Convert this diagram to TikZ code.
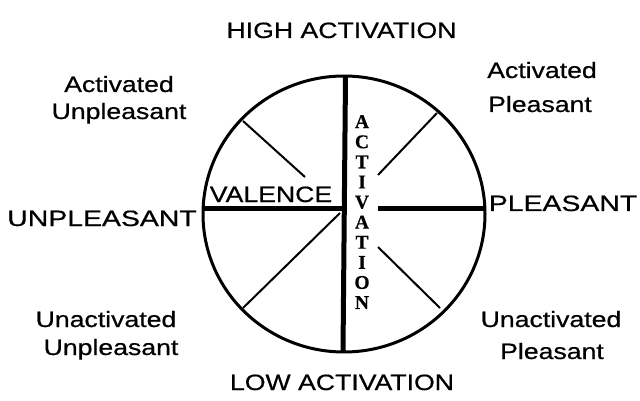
\documentclass[tikz,border=0pt]{standalone}
\usepackage{fontspec}
\setmainfont{Liberation Sans}
\newfontfamily\labfont[FakeStretch=1.2,FakeBold=0.6]{Liberation Sans}
\newfontfamily\widefont[FakeStretch=1.28,FakeBold=0.6]{Liberation Sans}
\newfontfamily\vertfont[FakeBold=0.4]{Liberation Serif}
\tikzset{
  lab/.style={font=\labfont\fontsize{22.2}{26}\selectfont, inner sep=0pt, anchor=base},
  widelab/.style={font=\widefont\fontsize{22.2}{26}\selectfont, inner sep=0pt, anchor=base},
  rim/.style={line width=3pt},
  axis/.style={line width=5pt},
  spoke/.style={line width=2pt},
}
\begin{document}
\begin{tikzpicture}[x=1pt,y=-1pt]
\useasboundingbox (0,0) rectangle (640,401);
% circle
\coordinate (c) at (344,214);
\draw[rim] (c) ellipse [x radius=141pt, y radius=138pt];
% axis coordinates
\coordinate (vt) at (345.5,77);
\coordinate (vb) at (343,352);
\coordinate (hl) at (203,208);
\coordinate (hm) at (343,208);
\coordinate (hr1) at (378,208);
\coordinate (hr) at (485,208);
\draw[axis] (vt) -- (vb);
\draw[axis] (hl) -- (hm);
\draw[axis] (hr1) -- (hr);
% spokes
\coordinate (ulo) at (243,121);
\coordinate (uli) at (305,177);
\coordinate (uro) at (437,113);
\coordinate (uri) at (378,175);
\coordinate (llo) at (243,308);
\coordinate (lli) at (340,213);
\coordinate (lro) at (440,308);
\coordinate (lri) at (378,247);
\draw[spoke] (ulo) -- (uli);
\draw[spoke] (uro) -- (uri);
\draw[spoke] (llo) -- (lli);
\draw[spoke] (lro) -- (lri);
% labels
\node[lab] (high) at (341.5,38) {HIGH ACTIVATION};
\node[lab] (low) at (342,390) {LOW ACTIVATION};
\node[lab] (au1) at (119,92) {Activated};
\node[lab] (au2) at (119,119) {Unpleasant};
\node[lab] (ap1) at (542,78) {Activated};
\node[lab] (ap2) at (540,112) {Pleasant};
\node[lab] (uu1) at (106,327) {Unactivated};
\node[lab] (uu2) at (111,355) {Unpleasant};
\node[lab] (up1) at (551,327) {Unactivated};
\node[lab] (up2) at (552,359) {Pleasant};
\node[widelab] (unp) at (102,226) {UNPLEASANT};
\node[widelab] (ple) at (563,211) {PLEASANT};
\node[lab] (val) at (271,202) {VALENCE};
\node[font=\vertfont\bfseries\fontsize{19.5}{20.1}\selectfont, inner sep=0pt, anchor=north, align=center] (act) at (362,115)
  {A\\C\\T\\I\\V\\A\\T\\I\\O\\N};
\end{tikzpicture}
\end{document}
